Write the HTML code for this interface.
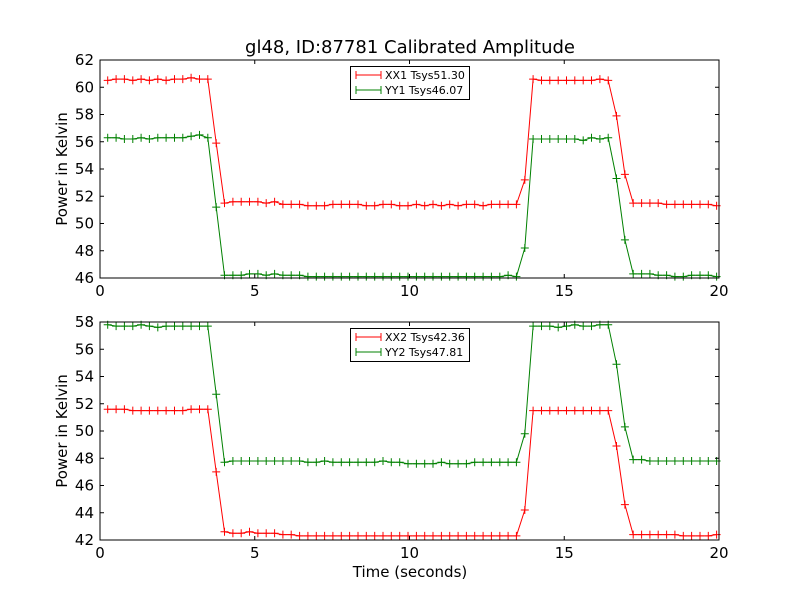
<!DOCTYPE html>
<html><head><meta charset="utf-8"><style>
body{margin:0;background:#fff;}
svg{display:block;font-family:"DejaVu Sans","Liberation Sans",sans-serif;}
</style></head><body>
<svg id="chart" width="800" height="600" viewBox="0 0 800 600">
<rect width="800" height="600" fill="#fff"/>
<text x="410" y="53" font-size="18" text-anchor="middle">gl48, ID:87781 Calibrated Amplitude</text>
<text x="410" y="577" font-size="15" text-anchor="middle">Time (seconds)</text>
</svg>
<script>
const nSamples = 74;
const tStart = 0.25, tStep = 0.2695;
const xx1 = [60.5,60.6,60.6,60.5,60.6,60.5,60.6,60.5,60.6,60.6,60.7,60.6,60.6,55.9,
51.5,51.6,51.6,51.6,51.6,51.5,51.6,51.4,51.4,51.4,51.3,51.3,51.3,51.4,51.4,51.4,51.4,51.3,51.3,51.4,51.4,51.3,51.3,51.4,51.3,51.4,51.3,51.4,51.3,51.4,51.4,51.3,51.4,51.4,51.4,
51.4,53.2,60.6,60.5,60.5,60.5,60.5,60.5,60.5,60.5,60.6,60.5,57.9,53.6,
51.5,51.5,51.5,51.5,51.4,51.4,51.4,51.4,51.4,51.4,51.3];
const yy1 = [56.3,56.3,56.2,56.2,56.3,56.2,56.3,56.3,56.3,56.3,56.4,56.5,56.3,51.2,
46.2,46.2,46.2,46.3,46.3,46.2,46.3,46.2,46.2,46.2,46.1,46.1,46.1,46.1,46.1,46.1,46.1,46.1,46.1,46.1,46.1,46.1,46.1,46.1,46.1,46.1,46.1,46.1,46.1,46.1,46.1,46.1,46.1,46.1,46.2,
46.1,48.2,56.2,56.2,56.2,56.2,56.2,56.2,56.1,56.3,56.2,56.3,53.3,48.8,
46.3,46.3,46.3,46.2,46.2,46.1,46.1,46.2,46.2,46.2,46.1];
const xx2 = [51.6,51.6,51.6,51.5,51.5,51.5,51.5,51.5,51.5,51.5,51.6,51.6,51.6,47.0,
42.6,42.5,42.5,42.6,42.5,42.5,42.5,42.4,42.4,42.3,42.3,42.3,42.3,42.3,42.3,42.3,42.3,42.3,42.3,42.3,42.3,42.3,42.3,42.3,42.3,42.3,42.3,42.3,42.3,42.3,42.3,42.3,42.3,42.3,42.3,
42.3,44.2,51.5,51.5,51.5,51.5,51.5,51.5,51.5,51.5,51.5,51.5,48.9,44.6,
42.4,42.4,42.4,42.4,42.4,42.4,42.3,42.3,42.3,42.3,42.4];
const yy2 = [57.8,57.7,57.7,57.7,57.8,57.7,57.6,57.7,57.7,57.7,57.7,57.7,57.7,52.7,
47.7,47.8,47.8,47.8,47.8,47.8,47.8,47.8,47.8,47.8,47.7,47.7,47.8,47.7,47.7,47.7,47.7,47.7,47.7,47.8,47.7,47.7,47.6,47.6,47.6,47.6,47.7,47.6,47.6,47.6,47.7,47.7,47.7,47.7,47.7,
47.7,49.8,57.7,57.7,57.7,57.6,57.7,57.8,57.7,57.7,57.8,57.8,54.9,50.3,
47.9,47.9,47.8,47.8,47.8,47.8,47.8,47.8,47.8,47.8,47.8];
const xTicks = [0,5,10,15,20];
const yTicksTop = [46,48,50,52,54,56,58,60,62];
const yTicksBot = [42,44,46,48,50,52,54,56,58];
const legendTop = ["XX1 Tsys51.30","YY1 Tsys46.07"];
const legendBot = ["XX2 Tsys42.36","YY2 Tsys47.81"];

const times = [];
for (let k = 0; k < nSamples; k++) times.push(tStart + k * tStep);

const NS = "http://www.w3.org/2000/svg";
const svg = document.getElementById("chart");
function mk(tag, attrs, parent) {
  const e = document.createElementNS(NS, tag);
  for (const k in attrs) e.setAttribute(k, attrs[k]);
  (parent || svg).appendChild(e);
  return e;
}

function panel(top, bottom, yMin, yMax, yTicks, series, legend, name) {
  const L = 100, R = 719;
  const g = mk("g", {});
  
  
  const xs = v => L + (v - 0) / 20 * (R - L);
  const ys = v => bottom - (v - yMin) / (yMax - yMin) * (bottom - top);
  // series
  series.forEach(s => {
    const sg = mk("g", {}, g);
    
    
    const pts = s.data.map((v, i) => xs(times[i]).toFixed(1) + "," + ys(v).toFixed(1)).join(" ");
    mk("polyline", {points: pts, fill: "none", stroke: s.color, "stroke-width": 1}, sg);
    let d = "";
    s.data.forEach((v, i) => {
      const x = xs(times[i]), y = ys(v);
      d += `M${(x-4).toFixed(1)},${y.toFixed(1)}H${(x+4).toFixed(1)}M${x.toFixed(1)},${(y-4).toFixed(1)}V${(y+4).toFixed(1)}`;
    });
    mk("path", {d: d, stroke: s.color, "stroke-width": 1, fill: "none"}, sg);
  });
  // frame
  const fr = mk("rect", {x: L, y: top, width: R - L, height: bottom - top, fill: "none", stroke: "#000", "stroke-width": 1}, g);
  
  
  // x ticks
  xTicks.forEach(t => {
    const x = xs(t);
    mk("line", {x1: x, x2: x, y1: bottom, y2: bottom - 4, stroke: "#000"}, g);
    mk("line", {x1: x, x2: x, y1: top, y2: top + 4, stroke: "#000"}, g);
    const tx = mk("text", {x: x, y: bottom + 18, "font-size": 15, "text-anchor": "middle"}, g);
    
    
    tx.textContent = t;
  });
  yTicks.forEach(t => {
    const y = ys(t);
    mk("line", {x1: L, x2: L + 4, y1: y, y2: y, stroke: "#000"}, g);
    mk("line", {x1: R, x2: R - 4, y1: y, y2: y, stroke: "#000"}, g);
    const tx = mk("text", {x: L - 6, y: y + 5, "font-size": 15, "text-anchor": "end"}, g);
    
    
    tx.textContent = t;
  });
  const yt = mk("text", {x: 0, y: 0, "font-size": 15, "text-anchor": "middle", transform: `translate(67,${(top+bottom)/2}) rotate(-90)`}, g);
  
  
  yt.textContent = "Power in Kelvin";
  // legend
  const lg = mk("g", {}, g);
  
  
  const ly = top + 6;
  mk("rect", {x: 350.5, y: ly + 0.5, width: 119, height: 33, fill: "#fff", stroke: "#000", "stroke-width": 1}, lg);
  series.forEach((s, i) => {
    const yy = ly + 9 + i * 15;
    const le = mk("g", {}, lg);
    
    
    mk("line", {x1: 356, x2: 381, y1: yy, y2: yy, stroke: s.color}, le);
    mk("path", {d: `M356,${yy-4}V${yy+4}M381,${yy-4}V${yy+4}`, stroke: s.color}, le);
    const tx = mk("text", {x: 385, y: yy + 4, "font-size": 11}, le);
    tx.textContent = legend[i];
  });
}

panel(60, 278, 46, 62, yTicksTop, [{name: "series-xx1", data: xx1, color: "#ff0000"}, {name: "series-yy1", data: yy1, color: "#008000"}], legendTop, "top-panel");
panel(322, 540, 42, 58, yTicksBot, [{name: "series-xx2", data: xx2, color: "#ff0000"}, {name: "series-yy2", data: yy2, color: "#008000"}], legendBot, "bottom-panel");
</script>
</body></html>
